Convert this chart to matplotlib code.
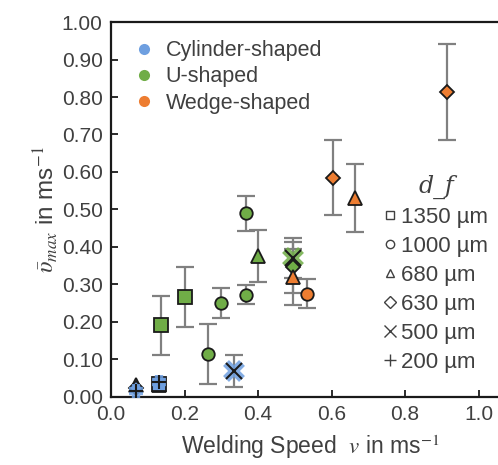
import matplotlib
matplotlib.use('Agg')
import matplotlib.pyplot as plt
from matplotlib.lines import Line2D

plt.rcParams['font.family'] = ['Liberation Sans', 'DejaVu Sans']
plt.rcParams['mathtext.fontset'] = 'stix'

# shape -> fill colour
shape_names = ['Cylinder-shaped', 'U-shaped', 'Wedge-shaped']
shape_colors = ['#6e9fe0', '#70ad47', '#ed7d31']

# fibre diameter -> marker
df_labels = ['1350 µm', '1000 µm', '680 µm', '630 µm', '500 µm', '200 µm']
df_markers = ['s', 'o', '^', 'D', 'x', '+']

# measured points: welding speed, v_max, error, shape index, marker
speed = [0.067, 0.067, 0.067, 0.131, 0.131, 0.131, 0.335,
         0.136, 0.200, 0.265, 0.299, 0.366, 0.366, 0.399, 0.496, 0.496,
         0.496, 0.532, 0.603, 0.664, 0.915]
vmax = [0.030, 0.022, 0.015, 0.030, 0.035, 0.040, 0.068,
        0.190, 0.265, 0.115, 0.250, 0.490, 0.272, 0.375, 0.370, 0.345,
        0.320, 0.275, 0.584, 0.530, 0.813]
err = [0.0, 0.0, 0.0, 0.0, 0.0, 0.0, 0.043,
       0.080, 0.080, 0.080, 0.040, 0.047, 0.025, 0.070, 0.053, 0.068,
       0.075, 0.038, 0.100, 0.090, 0.128]
shape = [0, 0, 0, 0, 0, 0, 0,
         1, 1, 1, 1, 1, 1, 1, 1, 1,
         2, 2, 2, 2, 2]
mark = ['^', 'D', '+', '^', 's', '+', 'x',
        's', 's', 'o', 'o', 'o', 'o', '^', 'x', 'D',
        '^', 'o', 'D', '^', 'D']

msize = {'s': 10, 'o': 9, '^': 9.5, 'D': 7, 'x': 11, '+': 10}

fig = plt.figure(figsize=(4.98, 4.65), dpi=100)
ax = fig.add_axes([0.2229, 0.147, 0.8, 0.8054])

for xv, yv, e, s, m in zip(speed, vmax, err, shape, mark):
    c = shape_colors[s]
    if e > 0:
        ax.errorbar(xv, yv, yerr=e, fmt='none', ecolor='#808080',
                    elinewidth=1.6, capsize=6.5, capthick=1.6, zorder=2)
    if m in ('x', '+'):
        ax.plot(xv, yv, m, ms=msize[m], mew=6, color=c, alpha=0.85, zorder=3)
        ax.plot(xv, yv, m, ms=msize[m], mew=1.5, color='#1a1a1a', zorder=4)
    else:
        ax.plot(xv, yv, m, ms=msize[m], mfc=c, mec='#1a1a1a', mew=1.3, zorder=3)

ax.set_xlim(0, 1.084)
ax.set_ylim(0, 1.0)
ax.set_xticks([0.0, 0.2, 0.4, 0.6, 0.8, 1.0])
ax.set_xticklabels(['0.0', '0.2', '0.4', '0.6', '0.8', '1.0'])
ax.set_yticks([i / 10 for i in range(11)])
ax.set_yticklabels(['%.2f' % (i / 10) for i in range(11)])
ax.tick_params(direction='in', length=5, width=1.3, labelsize=15,
               colors='#1a1a1a', labelcolor='#404040', pad=6)
ax.spines['right'].set_visible(False)
for side in ('top', 'left', 'bottom'):
    ax.spines[side].set_linewidth(1.6)
    ax.spines[side].set_color('#1a1a1a')

ax.set_xlabel(r'Welding Speed  $\mathit{v}$ in ms$^{-1}$', fontsize=16.5,
              color='#404040', labelpad=6)
ax.set_ylabel(r'$\bar{\upsilon}_{max}$ in ms$^{-1}$', fontsize=17.5,
              color='#404040', labelpad=1)

# legend for shapes
h1 = [Line2D([], [], ls='none', marker='o', ms=8, mfc=c, mec='none')
      for c in shape_colors]
leg1 = ax.legend(h1, shape_names, loc='upper left', bbox_to_anchor=(0.04, 0.975),
                 frameon=False, fontsize=15.5, handlelength=0.8,
                 handletextpad=0.6, labelspacing=0.25, borderaxespad=0)
for t in leg1.get_texts():
    t.set_color('#404040')
ax.add_artist(leg1)

# legend for fibre diameter
h2 = [Line2D([], [], ls='none', marker=m, ms=6 if m not in ('x', '+') else 9,
             mfc='none', mec='#404040', mew=1.0) for m in df_markers]
leg2 = ax.legend(h2, df_labels, loc='upper left', bbox_to_anchor=(0.665, 0.617),
                 frameon=False, fontsize=16, handlelength=0.5,
                 handletextpad=0.25, labelspacing=0.36, borderaxespad=0,
                 title='d_f', title_fontproperties={'family': 'DejaVu Serif',
                                                    'style': 'italic', 'size': 17})
for t in leg2.get_texts():
    t.set_color('#404040')
leg2.get_title().set_color('#404040')

fig.savefig('out.png', dpi=100)
